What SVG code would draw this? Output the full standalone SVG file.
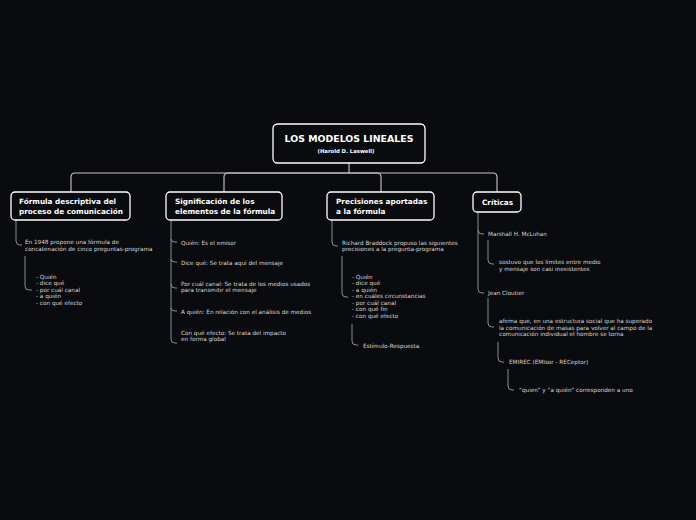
<svg xmlns="http://www.w3.org/2000/svg" width="696" height="520" viewBox="0 0 696 520">
<style>
.bg{fill:#0a0b0e}
.box{fill:#0a0b0e;stroke:#ffffff;stroke-width:1.3}
.t{font-family:"DejaVu Sans",Verdana,sans-serif;font-weight:bold;fill:#ffffff}
.s{font-family:"DejaVu Sans",Verdana,sans-serif;font-size:5.7px;fill:#d8d8d8}
.c{fill:none;stroke:#c8c8c8;stroke-width:1.1}
.c2{fill:none;stroke:#9a9a9a;stroke-width:0.9}
</style>
<rect class="bg" x="0" y="0" width="696" height="520"/>
<g id="connectors">
<path class="c" d="M349 163 V173 H75 Q71 173 71 177 V192"/>
<path class="c" d="M349 173 H228 Q224 173 224 177 V192"/>
<path class="c" d="M349 173 H377 Q381 173 381 177 V192"/>
<path class="c" d="M349 173 H493 Q497 173 497 177 V192"/>
<path class="c2" d="M16 220 V241 Q16 245 20 245 H22"/>
<path class="c2" d="M25 256 V286 Q25 290 29 290 H32"/>
<path class="c2" d="M171 220 V339 Q171 343 175 343 H177"/>
<path class="c2" d="M171 239 Q171 242 175 242 H177"/>
<path class="c2" d="M171 259 Q171 262 175 262 H177"/>
<path class="c2" d="M171 284 Q171 288 175 288 H177"/>
<path class="c2" d="M171 308 Q171 311 175 311 H177"/>
<path class="c2" d="M332 220 V242 Q332 246 336 246 H338"/>
<path class="c2" d="M342 256 V293 Q342 297 346 297 H348"/>
<path class="c2" d="M352 324 V341 Q352 345 356 345 H358"/>
<path class="c2" d="M478 212 V289 Q478 293 482 293 H484"/>
<path class="c2" d="M478 230 Q478 234 482 234 H484"/>
<path class="c2" d="M488 240 V260 Q488 264 492 264 H494"/>
<path class="c2" d="M488 298 V323 Q488 327 492 327 H494"/>
<path class="c2" d="M498 342 V358 Q498 362 502 362 H504"/>
<path class="c2" d="M508 369 V386 Q508 390 512 390 H514"/>
</g>
<g id="root">
<rect class="box" x="273" y="124" width="152" height="39" rx="4.5"/>
<text class="t" x="349" y="142" font-size="9.4" text-anchor="middle">LOS MODELOS LINEALES</text>
<text class="t" x="346" y="153" font-size="5.3" text-anchor="middle">(Harold D. Laswell)</text>
</g>
<g id="n1">
<rect class="box" x="11" y="192" width="119" height="28" rx="4"/>
<text class="t" x="19" y="204" font-size="7.3">Fórmula descriptiva del</text>
<text class="t" x="19" y="213.5" font-size="7.3">proceso de comunicación</text>
</g>
<g id="n1a">
<text class="s" x="25" y="244">En 1948 propone una fórmula de</text>
<text class="s" x="25" y="250.5">concatenación de cinco preguntas-programa</text>
</g>
<g id="n1b">
<text class="s" x="36" y="278.5">- Quién</text>
<text class="s" x="36" y="285">- dice qué</text>
<text class="s" x="36" y="291.5">- por cuál canal</text>
<text class="s" x="36" y="298">- a quién</text>
<text class="s" x="36" y="304.5">- con qué efecto</text>
</g>
<g id="n2">
<rect class="box" x="166" y="192" width="116" height="28" rx="4"/>
<text class="t" x="175" y="204" font-size="7.3">Significación de los</text>
<text class="t" x="175" y="213.5" font-size="7.3">elementos de la fórmula</text>
</g>
<g id="n2a"><text class="s" x="181" y="244.5">Quién: Es el emisor</text></g>
<g id="n2b"><text class="s" x="181" y="264.5">Dice qué: Se trata aquí del mensaje</text></g>
<g id="n2c">
<text class="s" x="181" y="285.5">Por cuál canal: Se trata de los medios usados</text>
<text class="s" x="181" y="292">para transmitir el mensaje</text>
</g>
<g id="n2d"><text class="s" x="181" y="313.5">A quién: En relación con el análisis de medios</text></g>
<g id="n2e">
<text class="s" x="181" y="334.5">Con qué efecto: Se trata del impacto</text>
<text class="s" x="181" y="341">en forma global</text>
</g>
<g id="n3">
<rect class="box" x="327" y="192" width="107" height="28" rx="4"/>
<text class="t" x="336" y="204" font-size="7.3">Precisiones aportadas</text>
<text class="t" x="336" y="213.5" font-size="7.3">a la fórmula</text>
</g>
<g id="n3a">
<text class="s" x="342" y="244.5">Richard Braddock propuso las siguientes</text>
<text class="s" x="342" y="251">precisiones a la pregunta-programa</text>
</g>
<g id="n3b">
<text class="s" x="352" y="278.5">- Quién</text>
<text class="s" x="352" y="285">- dice qué</text>
<text class="s" x="352" y="291.5">- a quién</text>
<text class="s" x="352" y="298">- en cuáles circunstancias</text>
<text class="s" x="352" y="304.5">- por cuál canal</text>
<text class="s" x="352" y="311">- con qué fin</text>
<text class="s" x="352" y="317.5">- con qué efecto</text>
</g>
<g id="n3c"><text class="s" x="363" y="347.5">Estímulo-Respuesta</text></g>
<g id="n4">
<rect class="box" x="473" y="192" width="48" height="20" rx="4"/>
<text class="t" x="482" y="204.5" font-size="7.3">Críticas</text>
</g>
<g id="n4a"><text class="s" x="488" y="235.5">Marshall H. McLuhan</text></g>
<g id="n4b">
<text class="s" x="499" y="263.5">sostuvo que los límites entre medio</text>
<text class="s" x="499" y="270.5">y mensaje son casi inexistentes</text>
</g>
<g id="n4c"><text class="s" x="488" y="294.5">Jean Cloutier</text></g>
<g id="n4d">
<text class="s" x="499" y="323">afirma que, en una estructura social que ha superado</text>
<text class="s" x="499" y="329.5">la comunicación de masas para volver al campo de la</text>
<text class="s" x="499" y="336">comunicación individual el hombre se torna</text>
</g>
<g id="n4e"><text class="s" x="509" y="364">EMIREC (EMIsor - RECeptor)</text></g>
<g id="n4f"><text class="s" x="519" y="392">“quien” y “a quién” corresponden a uno</text></g>
</svg>
